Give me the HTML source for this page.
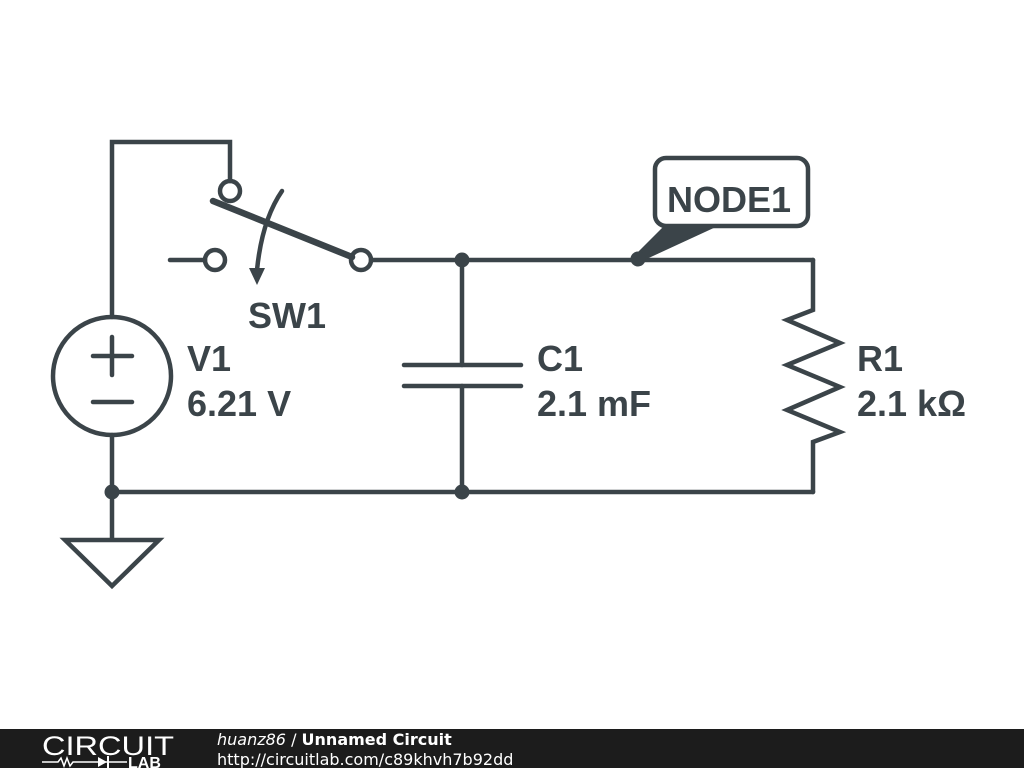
<!DOCTYPE html>
<html><head><meta charset="utf-8"><style>
html,body{margin:0;padding:0;background:#fff;}
svg{display:block;}
</style></head><body>
<svg width="1024" height="768" viewBox="0 0 1024 768" xmlns="http://www.w3.org/2000/svg">
<rect width="1024" height="768" fill="#fff"/>
<g stroke="#3b4449" stroke-width="4.5" fill="none" stroke-linecap="round" stroke-linejoin="miter">
<polyline points="112,317 112,142 230,142 230,181"/>
<circle cx="112" cy="376" r="59"/>
<line x1="93" y1="356" x2="132" y2="356"/>
<line x1="112" y1="337" x2="112" y2="375"/>
<line x1="93" y1="402" x2="132" y2="402"/>
<line x1="112" y1="435" x2="112" y2="539"/>
<polygon points="65,540 159,540 112,586"/>
<circle cx="230" cy="191" r="10"/>
<circle cx="215" cy="260" r="10"/>
<circle cx="361" cy="260" r="10"/>
<line x1="170" y1="260" x2="205" y2="260"/>
<line x1="213" y1="201" x2="352" y2="257" stroke-width="6.5"/>
<path d="M282,191 Q262,220 257,270"/>
<line x1="371" y1="260" x2="813" y2="260"/>
<polyline points="813,260 813,310 787,320 840,343 787,365 840,387 787,410 840,432 813,442 813,492"/>
<line x1="112" y1="492" x2="813" y2="492"/>
<line x1="462" y1="260" x2="462" y2="365"/>
<line x1="404" y1="365" x2="521" y2="365"/>
<line x1="404" y1="386" x2="521" y2="386"/>
<line x1="462" y1="386" x2="462" y2="492"/>
<rect x="655" y="158" width="153" height="68" rx="11"/>
</g>
<polygon points="249,268 265,268 257,285" fill="#3b4449"/>
<polygon points="664,226 718,226 640,262 634,256" fill="#3b4449"/>
<g fill="#3b4449">
<circle cx="112" cy="492" r="7.5"/>
<circle cx="462" cy="260" r="7.5"/>
<circle cx="462" cy="492" r="7.5"/>
<circle cx="638" cy="259" r="7.5"/>
</g>
<g fill="#3b4449" style="font-family:'Liberation Sans',Arial,sans-serif;font-weight:700;font-size:36px">
<text x="667" y="212">NODE1</text>
<text x="248" y="328">SW1</text>
<text x="187" y="371">V1</text>
<text x="187" y="416">6.21 V</text>
<text x="537" y="371">C1</text>
<text x="537" y="416">2.1 mF</text>
<text x="857" y="371">R1</text>
<text x="857" y="416">2.1 kΩ</text>
</g>
<rect x="0" y="729" width="1024" height="39" fill="#1c1c1c"/>
<text x="42" y="755" fill="#fff" style="font-family:'Liberation Sans',sans-serif;font-size:27px" textLength="132" lengthAdjust="spacingAndGlyphs">CIRCUIT</text>
<g stroke="#fff" stroke-width="1.5" fill="none">
<polyline points="42,762 58,762 61,758 64,766 67,758 70,766 73,762 80,762"/>
<line x1="80" y1="762" x2="127" y2="762"/>
</g>
<polygon points="98,757 98,767 107,762" fill="#fff"/>
<line x1="108" y1="756" x2="108" y2="768" stroke="#fff" stroke-width="2"/>
<text x="128" y="768" fill="#fff" style="font-family:'Liberation Sans',sans-serif;font-weight:700;font-size:16px">LAB</text>
<text x="217" y="745" fill="#fff" style="font-family:'DejaVu Sans',sans-serif;font-size:16px"><tspan font-style="italic">huanz86</tspan> / <tspan font-weight="bold">Unnamed Circuit</tspan></text>
<text x="217" y="765" fill="#fff" style="font-family:'DejaVu Sans',sans-serif;font-size:16px">http://circuitlab.com/c89khvh7b92dd</text>
</svg>
</body></html>
